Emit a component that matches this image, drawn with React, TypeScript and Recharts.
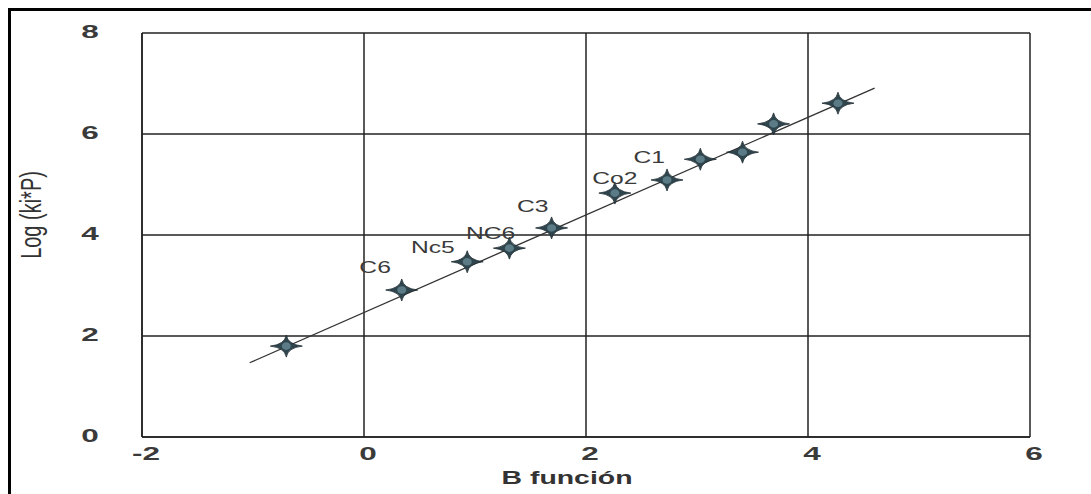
import React from "react";
import { ScatterChart, Scatter, XAxis, YAxis, CartesianGrid } from "recharts";

// measured points (B función vs Log(ki*P))
const pointX = [-0.7, 0.34, 0.93, 1.31, 1.69, 2.26, 2.73, 3.03, 3.41, 3.69, 4.27];
const pointY = [1.8, 2.91, 3.47, 3.74, 4.14, 4.83, 5.09, 5.5, 5.64, 6.2, 6.61];

// fitted line end points as drawn in the figure
const fitX = [-1.03, 4.6];
const fitY = [1.47, 6.91];

// component labels, placed in data units
const labelNames = ["C6", "Nc5", "NC6", "C3", "Co2", "C1"];
const labelX = [0.1, 0.62, 1.14, 1.52, 2.26, 2.57];
const labelY = [3.37, 3.76, 4.04, 4.57, 5.13, 5.54];

const xTicks = [-2, 0, 2, 4, 6];
const yTicks = [0, 2, 4, 6, 8];

const points = pointX.map((x, i) => ({ x, y: pointY[i] }));
const fitLine = fitX.map((x, i) => ({ x, y: fitY[i] }));
const labels = labelNames.map((name, i) => ({ name, x: labelX[i], y: labelY[i] }));

const INK = "#222";
const FONT = "'Liberation Sans', Arial, sans-serif";

function StarMarker(props: any) {
  const { cx, cy } = props;
  if (cx == null || cy == null) return <g />;
  const d =
    "M0,-11 Q1.6,-1.6 16,0 Q1.6,1.6 0,11 Q-1.6,1.6 -16,0 Q-1.6,-1.6 0,-11 Z";
  return (
    <g transform={`translate(${cx},${cy})`}>
      <path d={d} fill="#2f454d" stroke="#1c2a30" strokeWidth={0.8} />
      <ellipse rx={4.5} ry={3.8} fill="#5b7b87" />
    </g>
  );
}

function PointLabel(props: any) {
  const { cx, cy, payload } = props;
  if (cx == null || cy == null) return <g />;
  return (
    <text
      transform={`translate(${cx},${cy}) scale(1.45,1)`}
      textAnchor="middle"
      dy={6}
      fontFamily={FONT}
      fontSize={17}
      fill="#3a3a3a"
    >
      {payload.name}
    </text>
  );
}

function XTick(props: any) {
  const { x, payload } = props;
  return (
    <text
      transform={`translate(${x + 4},460) scale(1.75,1)`}
      textAnchor="middle"
      fontFamily={FONT}
      fontWeight="bold"
      fontSize={18}
      fill="#3a3a3a"
    >
      {payload.value}
    </text>
  );
}

function YTick(props: any) {
  const { y, payload } = props;
  return (
    <text
      transform={`translate(90,${y + 5}) scale(1.75,1)`}
      textAnchor="middle"
      fontFamily={FONT}
      fontWeight="bold"
      fontSize={18}
      fill="#3a3a3a"
    >
      {payload.value}
    </text>
  );
}

const Nothing = () => <g />;

export default function App() {
  return (
    <div
      style={{
        position: "absolute",
        left: 0,
        top: 0,
        width: 1091,
        height: 494,
        background: "#fff",
        overflow: "hidden",
      }}
    >
      <div
        style={{
          position: "absolute",
          left: 8,
          top: 8,
          width: 1083,
          height: 486,
          borderLeft: "3px solid #000",
          borderTop: "3px solid #000",
        }}
      />
      <ScatterChart
        width={1091}
        height={494}
        margin={{ top: 33, right: 61, bottom: 0, left: 0 }}
        style={{ position: "absolute", left: 0, top: 0 }}
      >
        <CartesianGrid stroke={INK} strokeWidth={1.5} />
        <XAxis
          type="number"
          dataKey="x"
          domain={[-2, 6]}
          ticks={xTicks}
          height={57}
          tickLine={false}
          axisLine={{ stroke: INK, strokeWidth: 1.5 }}
          tick={<XTick />}
        />
        <YAxis
          type="number"
          dataKey="y"
          domain={[0, 8]}
          ticks={yTicks}
          width={142}
          tickLine={false}
          axisLine={{ stroke: INK, strokeWidth: 1.5 }}
          tick={<YTick />}
        />
        <Scatter
          data={fitLine}
          line={{ stroke: "#333", strokeWidth: 1.3 }}
          shape={<Nothing />}
          isAnimationActive={false}
        />
        <Scatter data={points} shape={<StarMarker />} isAnimationActive={false} />
        <Scatter data={labels} shape={<PointLabel />} isAnimationActive={false} />
      </ScatterChart>
      <svg
        width={1091}
        height={494}
        style={{ position: "absolute", left: 0, top: 0, pointerEvents: "none" }}
      >
        <text
          transform="translate(567,484) scale(1.58,1)"
          textAnchor="middle"
          fontFamily={FONT}
          fontWeight="bold"
          fontSize={18}
          fill="#333"
        >
          B función
        </text>
        <text
          transform="translate(31,215) scale(1.45,1) rotate(-90)"
          textAnchor="middle"
          dy={7}
          fontFamily={FONT}
          fontSize={20}
          fill="#333"
        >
          Log (ki*P)
        </text>
      </svg>
    </div>
  );
}
